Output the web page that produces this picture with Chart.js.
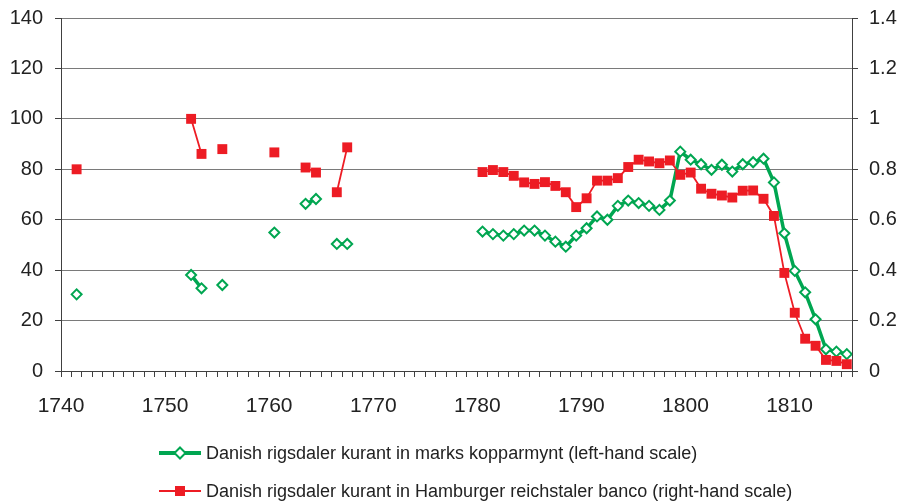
<!DOCTYPE html>
<html><head><meta charset="utf-8">
<script src="https://cdn.jsdelivr.net/npm/chart.js@4/dist/chart.umd.min.js"></script>
<style>
html,body{margin:0;padding:0;background:#fff;}
#wrap{position:relative;width:905px;height:503px;}
#legend{position:absolute;left:0;top:0;width:905px;height:503px;pointer-events:none;font-family:"Liberation Sans",Arial,sans-serif;font-size:18px;color:#222;}
.item{position:absolute;left:158px;height:20px;display:flex;align-items:center;white-space:nowrap;}
.item svg{margin-right:4px;flex:none;}
</style></head>
<body>
<div id="wrap">
<canvas id="c" width="905" height="503"></canvas>
<div id="legend">
  <div class="item" style="top:443px"><svg width="44" height="20"><line x1="1" y1="10" x2="43" y2="10" stroke="#00a651" stroke-width="4"/><polygon points="22,4.5 27.5,10 22,15.5 16.5,10" fill="#fff" stroke="#00a651" stroke-width="2"/></svg><span id="lab1"></span></div>
  <div class="item" style="top:481px"><svg width="44" height="20"><line x1="1" y1="10" x2="43" y2="10" stroke="#ed1c24" stroke-width="2"/><rect x="17" y="5" width="10" height="10" fill="#ed1c24"/></svg><span id="lab2"></span></div>
</div>
</div>
<script>
// Categories (years); each year's value is centred in its one-year category slot
const years = [
  1741,1742,1743,1744,1745,1746,1747,1748,1749,
  1750,1751,1752,1753,1754,1755,1756,1757,1758,1759,
  1760,1761,1762,1763,1764,1765,1766,1767,1768,1769,
  1770,1771,1772,1773,1774,1775,1776,1777,1778,1779,
  1780,1781,1782,1783,1784,1785,1786,1787,1788,1789,
  1790,1791,1792,1793,1794,1795,1796,1797,1798,1799,
  1800,1801,1802,1803,1804,1805,1806,1807,1808,1809,
  1810,1811,1812,1813,1814,1815
];
// Danish rigsdaler kurant in marks kopparmynt (left-hand scale)
const kopparmynt = [
  30.4, null, null, null, null, null, null, null, null,
  null, null, 38.1, 32.8, null, 34.1, null, null, null, null,
  54.9, null, null, 66.3, 68.2, null, 50.4, 50.4, null, null,
  null, null, null, null, null, null, null, null, null, null,
  55.3, 54.3, 53.7, 54.3, 55.7, 55.7, 53.7, 51.3, 49.3, 53.7,
  56.6, 61.3, 60.0, 65.5, 67.6, 66.6, 65.5, 63.9, 67.6, 87.0,
  83.8, 82.0, 79.8, 81.8, 79.1, 82.0, 82.8, 84.2, 74.8, 54.6,
  39.7, 31.2, 20.5, 8.6, 7.7, 6.7
];
// Danish rigsdaler kurant in Hamburger reichstaler banco (right-hand scale)
const banco = [
  0.800, null, null, null, null, null, null, null, null,
  null, null, 1.000, 0.861, null, 0.880, null, null, null, null,
  0.867, null, null, 0.807, 0.787, null, 0.709, 0.887, null, null,
  null, null, null, null, null, null, null, null, null, null,
  0.789, 0.797, 0.789, 0.774, 0.748, 0.742, 0.749, 0.734, 0.709, 0.650,
  0.685, 0.755, 0.755, 0.765, 0.809, 0.838, 0.831, 0.824, 0.835, 0.778,
  0.787, 0.723, 0.703, 0.696, 0.688, 0.715, 0.716, 0.683, 0.615, 0.389,
  0.231, 0.128, 0.100, 0.044, 0.040, 0.027
];
const seriesLabels = [
  'Danish rigsdaler kurant in marks kopparmynt (left-hand scale)',
  'Danish rigsdaler kurant in Hamburger reichstaler banco (right-hand scale)'
];
const xLabelYears = [1740,1750,1760,1770,1780,1790,1800,1810];
const leftTicks = [0,20,40,60,80,100,120,140];
const rightTicks = [0,0.2,0.4,0.6,0.8,1,1.2,1.4];

document.getElementById('lab1').textContent = seriesLabels[0];
document.getElementById('lab2').textContent = seriesLabels[1];

const FONT = '"Liberation Sans", Arial, sans-serif';
const GREEN = '#00a651', RED = '#ed1c24', AXIS = '#404040';
const toPts = arr => years.map((yr, i) => ({x: yr + 0.5, y: arr[i]}));

const fitY = w => s => { s.width = w; s.paddingTop = 0; s.paddingBottom = 0; };

new Chart(document.getElementById('c'), {
  type: 'line',
  data: {
    datasets: [
      {
        label: seriesLabels[1], data: toPts(banco), yAxisID: 'y2', order: 0,
        borderColor: RED, borderWidth: 1.8, spanGaps: false,
        pointStyle: 'rect', pointRadius: 7, pointHoverRadius: 7,
        pointBackgroundColor: RED, pointBorderColor: RED, pointBorderWidth: 0
      },
      {
        label: seriesLabels[0], data: toPts(kopparmynt), yAxisID: 'y', order: 1,
        borderColor: GREEN, borderWidth: 3.5, spanGaps: false,
        pointStyle: 'rectRot', pointRadius: 5, pointHoverRadius: 5,
        pointBackgroundColor: '#fff', pointBorderColor: GREEN, pointBorderWidth: 2
      }
    ]
  },
  options: {
    responsive: false, animation: false, devicePixelRatio: 1,
    layout: {padding: {top: 18, bottom: 82, left: 0, right: 0}},
    plugins: {legend: {display: false}, tooltip: {enabled: false}},
    scales: {
      x: {
        type: 'linear', position: 'bottom', min: 1740, max: 1816,
        grid: {drawOnChartArea: false, drawTicks: true, tickLength: 6, color: AXIS, tickColor: AXIS},
        border: {display: true, color: AXIS, width: 1},
        ticks: {
          stepSize: 1, autoSkip: false, maxRotation: 0, minRotation: 0, padding: 17,
          color: '#222', font: {family: FONT, size: 21},
          callback: v => xLabelYears.includes(v) ? String(v) : ''
        },
        afterFit: s => { s.height = 50; s.paddingLeft = 0; s.paddingRight = 0; }
      },
      y: {
        position: 'left', min: 0, max: 140,
        afterBuildTicks: s => { s.ticks = leftTicks.map(v => ({value: v})); },
        grid: {color: '#7a7a7a', lineWidth: 1, drawTicks: true, tickLength: 6, tickColor: AXIS},
        border: {display: true, color: AXIS, width: 1},
        ticks: {padding: 12, color: '#222', font: {family: FONT, size: 20}, callback: v => String(v)},
        afterFit: fitY(61)
      },
      y2: {
        position: 'right', min: 0, max: 1.4,
        afterBuildTicks: s => { s.ticks = rightTicks.map(v => ({value: v})); },
        grid: {drawOnChartArea: false, drawTicks: true, tickLength: 6, color: AXIS, tickColor: AXIS},
        border: {display: true, color: AXIS, width: 1},
        ticks: {padding: 11, color: '#222', font: {family: FONT, size: 20}, callback: v => String(Math.round(v * 10) / 10)},
        afterFit: fitY(53)
      }
    }
  }
});
</script>
</body></html>
